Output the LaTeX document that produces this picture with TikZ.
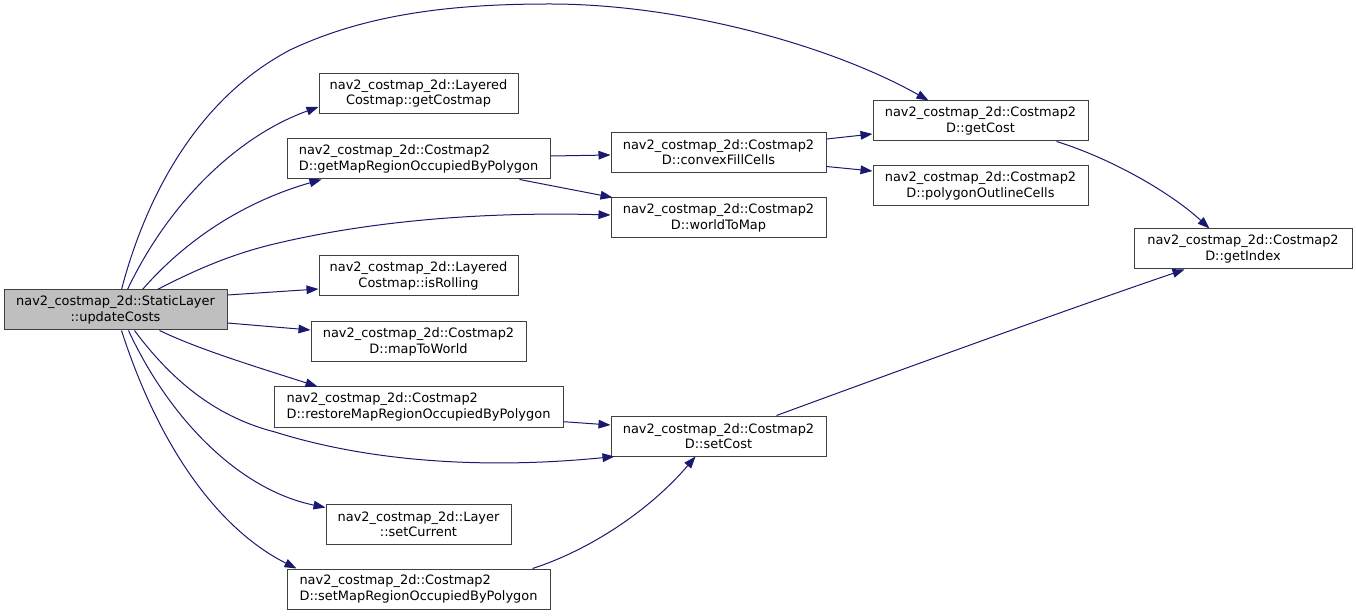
\documentclass[tikz,border=0pt]{standalone}
\usepackage{fontspec}
\setmainfont{DejaVu Sans}
\usetikzlibrary{arrows.meta,calc}
\definecolor{edgec}{HTML}{191970}
\definecolor{boxline}{HTML}{404040}
\definecolor{hl}{HTML}{BFBFBF}
\begin{document}
\begin{tikzpicture}[x=0.75pt,y=-0.75pt,
 box/.style={draw=boxline, line width=0.75pt, fill=white, inner sep=0pt, minimum height=30pt, font=\fontsize{9.7}{11.5}\selectfont, align=center},
 boxl/.style={box, align=left},
 call/.style={draw=edgec, line width=0.75pt, -{Triangle[length=9pt,width=6.5pt]}}
]
\useasboundingbox (0,0) rectangle (1356,616);

\node[box, fill=hl, minimum width=223*0.75pt] (upd) at (115.5,310) {nav2\_costmap\_2d::StaticLayer\\::updateCosts};
\node[box, minimum width=199*0.75pt] (gcm) at (418.5,93.5) {nav2\_costmap\_2d::Layered\\Costmap::getCostmap};
\node[boxl, minimum width=263*0.75pt] (gmr) at (418.5,159) {nav2\_costmap\_2d::Costmap2\\D::getMapRegionOccupiedByPolygon};
\node[box, minimum width=199*0.75pt] (isr) at (418.5,276) {nav2\_costmap\_2d::Layered\\Costmap::isRolling};
\node[box, minimum width=215*0.75pt] (m2w) at (418.5,342) {nav2\_costmap\_2d::Costmap2\\D::mapToWorld};
\node[boxl, minimum width=289*0.75pt] (rmr) at (418.5,407) {nav2\_costmap\_2d::Costmap2\\D::restoreMapRegionOccupiedByPolygon};
\node[box, minimum width=185*0.75pt] (scur) at (418.5,524) {nav2\_costmap\_2d::Layer\\::setCurrent};
\node[boxl, minimum width=263*0.75pt] (smr) at (418.5,589) {nav2\_costmap\_2d::Costmap2\\D::setMapRegionOccupiedByPolygon};
\node[box, minimum width=215*0.75pt] (cfc) at (718.5,152.5) {nav2\_costmap\_2d::Costmap2\\D::convexFillCells};
\node[box, minimum width=215*0.75pt] (w2m) at (718.5,218) {nav2\_costmap\_2d::Costmap2\\D::worldToMap};
\node[box, minimum width=215*0.75pt] (setc) at (718.5,436) {nav2\_costmap\_2d::Costmap2\\D::setCost};
\node[box, minimum width=215*0.75pt] (gcost) at (980.5,121) {nav2\_costmap\_2d::Costmap2\\D::getCost};
\node[box, minimum width=215*0.75pt] (pol) at (980.5,186) {nav2\_costmap\_2d::Costmap2\\D::polygonOutlineCells};
\node[box, minimum width=218*0.75pt] (gidx) at (1243,249) {nav2\_costmap\_2d::Costmap2\\D::getIndex};

% from updateCosts
\draw[call] ($(upd.north west)+(118,0)$) .. controls (145,200) and (195,100) .. (290,50) .. controls (370,12) and (460,4) .. (550,4) .. controls (680,4) and (830,45) .. ($(gcost.north west)+(56,0)$);
\draw[call] ($(upd.north west)+(124,0)$) .. controls (170,200) and (240,135) .. ($(gcm.south west)+(0,-7)$);
\draw[call] ($(upd.north west)+(139,0)$) .. controls (190,235) and (250,200) .. ($(gmr.south west)+(35,0)$);
\draw[call] ($(upd.north west)+(154,0)$) .. controls (195,270) and (230,255) .. (270,245) .. controls (380,218) and (500,212) .. ($(w2m.west)+(0,-3)$);
\draw[call] ($(upd.east)+(0,-15)$) -- ($(isr.west)+(0,13)$);
\draw[call] ($(upd.east)+(0,13)$) -- ($(m2w.west)+(0,-12)$);
\draw[call] ($(upd.south west)+(156,0)$) .. controls (200,350) and (260,368) .. ($(rmr.north west)+(44,0)$);
\draw[call] ($(upd.south west)+(131,0)$) .. controls (175,385) and (220,418) .. (275,432) .. controls (380,465) and (500,468) .. ($(setc.south west)+(4,0)$);
\draw[call] ($(upd.south west)+(125,0)$) .. controls (170,420) and (240,490) .. ($(scur.north west)+(0,4)$);
\draw[call] ($(upd.south west)+(118,0)$) .. controls (160,450) and (220,530) .. ($(smr.north west)+(10,0)$);

% others
\draw[call] ($(gmr.east)+(0,-3)$) -- ($(cfc.west)+(0,2.5)$);
\draw[call] ($(gmr.south west)+(233,0)$) -- ($(w2m.north west)+(2,0)$);
\draw[call] ($(cfc.east)+(0,-13.5)$) -- ($(gcost.west)+(0,13)$);
\draw[call] ($(cfc.east)+(0,14)$) -- ($(pol.west)+(0,-15)$);
\draw[call] ($(gcost.south west)+(184,0)$) .. controls (1110,158) and (1170,192) .. ($(gidx.north west)+(76,0)$);
\draw[call] ($(setc.north west)+(166,0)$) .. controls (900,370) and (1080,305) .. ($(gidx.south west)+(51,0)$);
\draw[call] ($(rmr.east)+(0,14.7)$) -- ($(setc.west)+(0,-11)$);
\draw[call] ($(smr.north west)+(246,0)$) .. controls (590,550) and (650,510) .. ($(setc.south west)+(85,0)$);
\end{tikzpicture}
\end{document}
